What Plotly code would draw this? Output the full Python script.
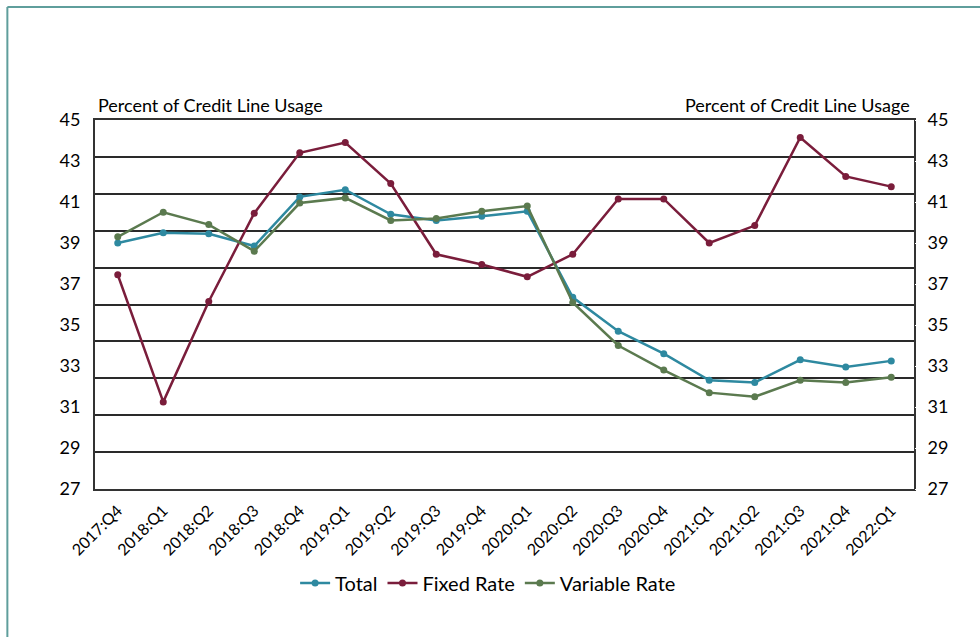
import plotly.graph_objects as go

quarters = ["2017:Q4", "2018:Q1", "2018:Q2", "2018:Q3", "2018:Q4", "2019:Q1",
            "2019:Q2", "2019:Q3", "2019:Q4", "2020:Q1", "2020:Q2", "2020:Q3",
            "2020:Q4", "2021:Q1", "2021:Q2", "2021:Q3", "2021:Q4", "2022:Q1"]

total = [39.0, 39.5, 39.45, 38.85, 41.25, 41.6, 40.4, 40.1, 40.3, 40.55,
         36.35, 34.7, 33.6, 32.3, 32.2, 33.3, 32.95, 33.25]
fixed_rate = [37.45, 31.25, 36.15, 40.45, 43.4, 43.9, 41.9, 38.45, 37.95, 37.35,
              38.45, 41.15, 41.15, 39.0, 39.85, 44.15, 42.25, 41.75]
variable_rate = [39.3, 40.5, 39.9, 38.6, 40.95, 41.2, 40.1, 40.2, 40.55, 40.8,
                 36.1, 34.0, 32.8, 31.7, 31.5, 32.3, 32.2, 32.45]

y_ticks = [27, 29, 31, 33, 35, 37, 39, 41, 43, 45]

COLOURS = {
    "total": "#2e89a0",
    "fixed": "#7a1d3b",
    "variable": "#5b7a4f",
    "frame": "#333333",
    "border": "#5f9e9c",
}
FONT = "Lato, Open Sans, sans-serif"

fig = go.Figure()
for name, vals, col in [("Total", total, COLOURS["total"]),
                        ("Fixed Rate", fixed_rate, COLOURS["fixed"]),
                        ("Variable Rate", variable_rate, COLOURS["variable"])]:
    fig.add_trace(go.Scatter(
        x=quarters, y=vals, name=name, mode="lines+markers",
        line=dict(color=col, width=2.5),
        marker=dict(color=col, size=7),
    ))

# invisible traces to anchor the right-hand axis and the grid axis
fig.add_trace(go.Scatter(x=quarters, y=total, yaxis="y2", showlegend=False,
                         mode="lines", line=dict(width=0), hoverinfo="skip"))
fig.add_trace(go.Scatter(x=quarters, y=total, yaxis="y3", showlegend=False,
                         mode="lines", line=dict(width=0), hoverinfo="skip"))

fig.update_layout(
    width=980, height=637,
    paper_bgcolor="white", plot_bgcolor="white",
    font=dict(family=FONT, color="#000000", size=16),
    margin=dict(l=95, r=66, t=120, b=148),
    xaxis=dict(type="category", range=[-0.5, 17.5], tickangle=-45,
               tickfont=dict(size=16), showgrid=False, automargin=False,
               showline=True, linecolor=COLOURS["frame"], linewidth=2, mirror=True,
               ticks="outside", ticklen=4, tickcolor="white"),
    yaxis=dict(range=[27, 45], tickvals=y_ticks, showgrid=False, automargin=False,
               tickfont=dict(size=18),
               showline=True, linecolor=COLOURS["frame"], linewidth=2, mirror=True,
               ticks="outside", ticklen=9, tickcolor="white", zeroline=False),
    yaxis2=dict(range=[27, 45], tickvals=y_ticks, overlaying="y", side="right",
                showgrid=False, tickfont=dict(size=18), zeroline=False,
                automargin=False, ticks="outside", ticklen=9, tickcolor="white"),
    yaxis3=dict(range=[27, 45], tick0=27, dtick=1.8, overlaying="y",
                showgrid=True, gridcolor="#2a2a2a", gridwidth=1.5,
                showticklabels=False, zeroline=False, automargin=False),
    legend=dict(orientation="h", x=0.48, xanchor="center", y=-0.255, yanchor="middle",
                font=dict(size=20), bgcolor="rgba(0,0,0,0)"),
    showlegend=True,
)

fig.add_annotation(text="Percent of Credit Line Usage", xref="paper", yref="paper",
                   x=0.001, y=1.005, xanchor="left", yanchor="bottom",
                   showarrow=False, font=dict(size=18))
fig.add_annotation(text="Percent of Credit Line Usage", xref="paper", yref="paper",
                   x=0.997, y=1.005, xanchor="right", yanchor="bottom",
                   showarrow=False, font=dict(size=18))

# outer teal page border (top and left)
fig.add_shape(type="line", xref="paper", yref="paper", x0=-0.107, x1=1.2,
              y0=1.306, y1=1.306, line=dict(color=COLOURS["border"], width=2))
fig.add_shape(type="line", xref="paper", yref="paper", x0=-0.107, x1=-0.107,
              y0=1.306, y1=-0.5, line=dict(color=COLOURS["border"], width=2))

# drop the default page margin so the figure sits at the window corner
fig.write_html("out.html", config={"displayModeBar": False},
               post_script="document.body.style.margin='0';")
